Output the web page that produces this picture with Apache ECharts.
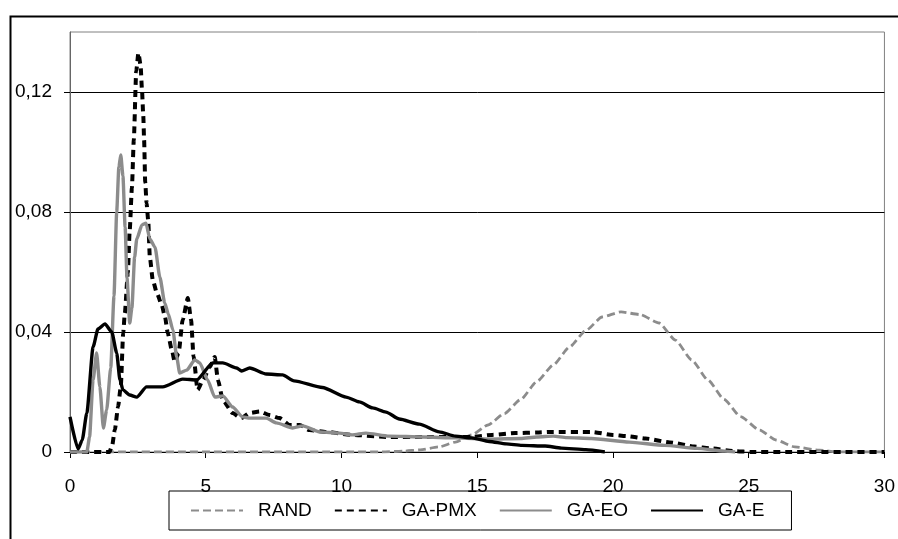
<!DOCTYPE html>
<html>
<head>
<meta charset="utf-8">
<script src="https://cdn.jsdelivr.net/npm/echarts@6/dist/echarts.min.js"></script>
<style>
  html, body { margin: 0; padding: 0; background: #fff; }
  #chart { width: 898px; height: 539px; }
</style>
</head>
<body>
<div id="chart"></div>
<script>
var dom = document.getElementById('chart');
var myChart = echarts.init(dom);

var seriesNames = ['RAND', 'GA-PMX', 'GA-EO', 'GA-E'];
var yTicks = [0, 0.04, 0.08, 0.12];

// [x, y] points
var rand = [[0,0],[11.5,0],[12.3,0.0003],[12.9,0.0007],[13.6,0.0017],[14.2,0.0033],[14.8,0.0057],
  [15.4,0.009],[16.0,0.0128],[16.6,0.0175],[17.2,0.0235],[17.8,0.029],[18.4,0.035],[19.0,0.0405],
  [19.6,0.045],[20.3,0.0467],[21.0,0.0458],[21.7,0.043],[22.3,0.0373],[22.9,0.0307],[23.5,0.024],
  [24.1,0.0175],[24.7,0.0118],[25.4,0.0073],[26.0,0.004],[26.7,0.0017],[27.6,0.0006],[28.3,0],[30,0]];

var gaPmx = [[0,0],[1.45,0],[1.55,0.002],[1.65,0.0073],[1.77,0.015],[1.87,0.0217],[1.96,0.0397],
  [2.02,0.0463],[2.13,0.0597],[2.2,0.074],[2.28,0.088],[2.35,0.104],[2.44,0.127],[2.52,0.133],
  [2.6,0.129],[2.65,0.121],[2.7,0.112],[2.73,0.104],[2.77,0.09],[2.82,0.083],[2.88,0.0773],
  [2.94,0.065],[3.05,0.0573],[3.2,0.053],[3.38,0.049],[3.5,0.045],[3.6,0.0397],[3.75,0.034],
  [3.86,0.030],[4.0,0.033],[4.15,0.044],[4.34,0.0513],[4.46,0.044],[4.55,0.032],[4.7,0.0207],
  [4.9,0.024],[5.15,0.0283],[5.33,0.0317],[5.45,0.024],[5.63,0.0173],[5.99,0.013],[6.3,0.0113],
  [6.62,0.013],[6.99,0.0135],[7.35,0.0123],[7.72,0.0113],[8.09,0.009],[8.46,0.009],[8.82,0.0073],
  [9.45,0.0067],[10.4,0.0057],[11.76,0.005],[13,0.005],[14.2,0.005],[14.8,0.005],[15.55,0.0057],
  [16.4,0.0063],[17.2,0.0065],[17.65,0.0067],[19.2,0.0067],[20.0,0.0057],[20.5,0.0053],[21.2,0.0045],
  [22.1,0.0032],[23.0,0.0018],[23.6,0.0012],[24.5,0.0003],[25.1,0],[30,0]];

var gaEo = [[0,0],[0.62,0],[0.72,0.005],[0.85,0.024],[0.98,0.033],[1.1,0.0217],[1.23,0.008],
  [1.35,0.014],[1.5,0.028],[1.62,0.052],[1.72,0.08],[1.8,0.095],[1.87,0.099],[1.95,0.092],
  [2.03,0.075],[2.1,0.058],[2.2,0.043],[2.28,0.048],[2.38,0.065],[2.46,0.071],[2.65,0.0757],
  [2.8,0.0763],[2.94,0.071],[3.13,0.0683],[3.31,0.0583],[3.49,0.0497],[3.62,0.046],[3.79,0.0407],
  [3.93,0.0317],[4.04,0.0263],[4.3,0.0273],[4.6,0.0307],[4.78,0.0297],[5.07,0.024],[5.33,0.0183],
  [5.63,0.0187],[5.99,0.015],[6.36,0.0117],[6.62,0.0113],[7.23,0.0113],[7.6,0.0097],[8.2,0.008],
  [8.57,0.0087],[9.2,0.0067],[9.93,0.0063],[10.4,0.0057],[10.9,0.0063],[11.76,0.0053],[13,0.005],
  [14.2,0.0047],[15.44,0.0043],[16.6,0.0045],[17.2,0.005],[17.8,0.0053],[18.3,0.0048],[19.2,0.0045],
  [20.6,0.0033],[21.9,0.0022],[23.1,0.0012],[24.1,0.0003],[24.5,0]];

var gaE = [[0,0.0117],[0.3,0.001],[0.45,0.004],[0.62,0.013],[0.85,0.035],[1.03,0.041],[1.29,0.0427],
  [1.54,0.040],[1.72,0.033],[1.84,0.024],[1.95,0.0207],[2.2,0.019],[2.46,0.0183],[2.82,0.0217],
  [3.42,0.0217],[4.15,0.0243],[4.66,0.024],[5.26,0.0297],[5.63,0.0297],[6.14,0.028],[6.32,0.027],
  [6.62,0.028],[7.23,0.026],[7.83,0.0257],[8.25,0.0237],[9.3,0.0215],[10.17,0.0183],[10.66,0.0167],
  [11.15,0.0147],[11.64,0.0133],[12.13,0.011],[12.87,0.0093],[13.6,0.0067],[14.2,0.0053],
  [14.8,0.0047],[15.44,0.0035],[16.07,0.0027],[16.65,0.0022],[17.5,0.002],[18.1,0.0013],
  [19.0,0.0008],[19.7,0]];

var gray = '#8c8c8c';
var font = "'Liberation Sans', Arial, sans-serif";

function lineSeries(name, data, color, width, dash) {
  return {
    name: name,
    type: 'line',
    data: data,
    symbol: 'none',
    smooth: 0.2,
    smoothMonotone: 'x',
    lineStyle: { color: color, width: width, type: dash ? dash : 'solid', cap: 'butt' },
    itemStyle: { color: color }
  };
}

var option = {
  animation: false,
  backgroundColor: '#fff',
  textStyle: { fontFamily: font },
  graphic: [{
    type: 'rect',
    left: 8, top: 14,
    shape: { width: 900, height: 600 },
    style: { fill: 'none', stroke: '#000', lineWidth: 2 },
    silent: true
  }],
  grid: {
    left: 70, top: 32, right: 12, bottom: 87,
    show: true, borderColor: '#808080', borderWidth: 1
  },
  legend: {
    data: seriesNames,
    left: 169, top: 491,
    padding: [10, 27, 10, 21],
    itemWidth: 52, itemHeight: 14, itemGap: 22,
    borderColor: '#000', borderWidth: 1,
    itemStyle: { opacity: 0 },
    textStyle: { fontSize: 19, color: '#000', fontFamily: font, padding: [0, 0, 0, 10] }
  },
  xAxis: {
    type: 'value',
    min: 0, max: 30, interval: 5,
    axisLine: { show: true, lineStyle: { color: '#000', width: 1 } },
    axisTick: { show: true, length: 6, lineStyle: { color: '#000' } },
    axisLabel: { color: '#000', fontSize: 19, margin: 25, fontFamily: font },
    splitLine: { show: false }
  },
  yAxis: {
    type: 'value',
    min: 0, max: 0.14, interval: 0.04,
    axisLine: { show: true, lineStyle: { color: '#666' } },
    axisTick: { show: true, length: 6, customValues: yTicks, lineStyle: { color: '#000' } },
    axisLabel: {
      color: '#000', fontSize: 19, margin: 18, fontFamily: font,
      customValues: yTicks,
      formatter: function (v) {
        if (v === 0) return '0';
        return v.toFixed(2).replace('.', ',');
      }
    },
    splitLine: { show: true, lineStyle: { color: ['#000', '#000', '#000', '#000', '#808080'], width: 1 } }
  },
  series: [
    lineSeries('RAND', rand, gray, 2.8, [8, 4]),
    lineSeries('GA-PMX', gaPmx, '#000', 4, [7, 5]),
    lineSeries('GA-EO', gaEo, gray, 3.4),
    lineSeries('GA-E', gaE, '#000', 3.4)
  ]
};

if (option && typeof option === 'object') {
  myChart.setOption(option, true);
}
</script>
</body>
</html>
